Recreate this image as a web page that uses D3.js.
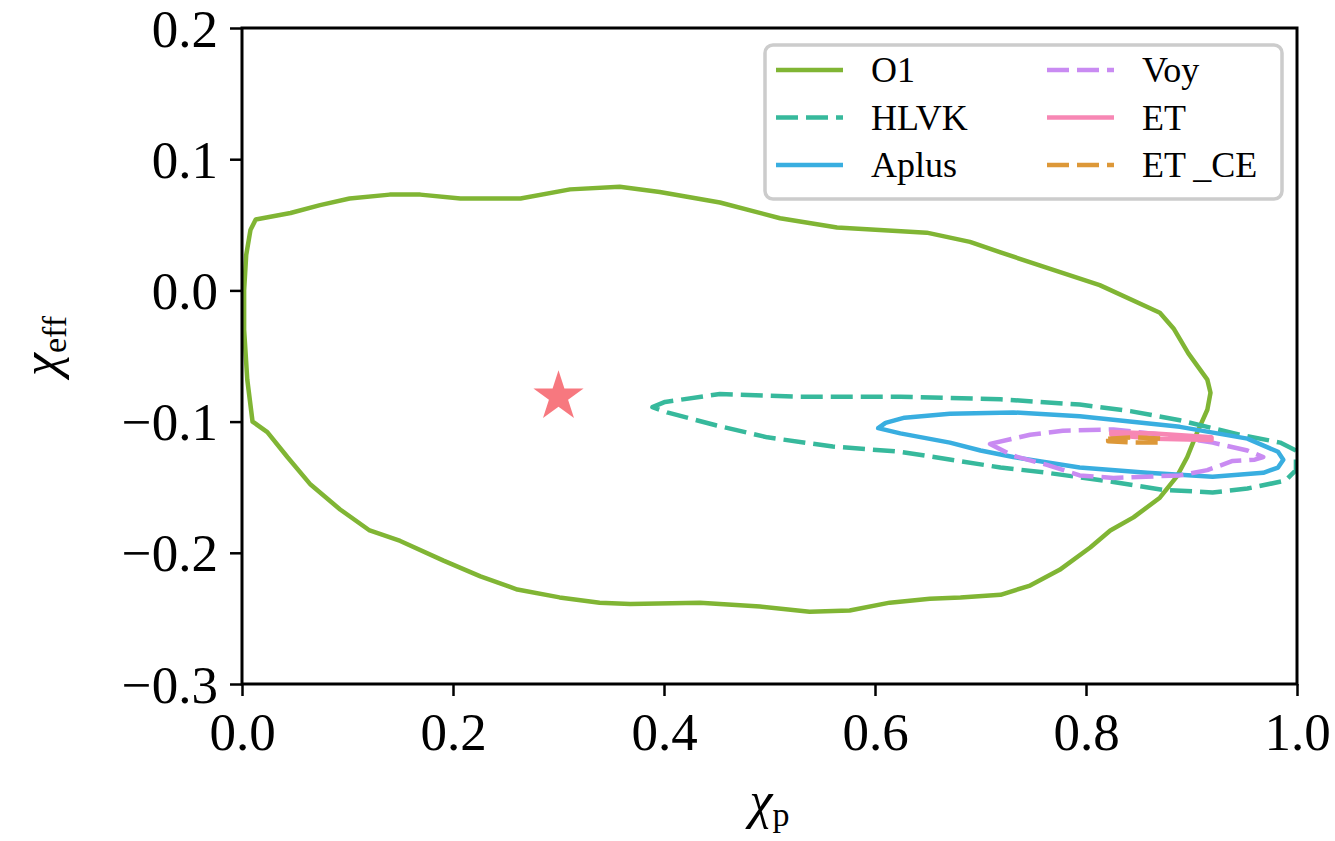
<!DOCTYPE html>
<html>
<head>
<meta charset="utf-8">
<script src="https://cdn.jsdelivr.net/npm/d3@7"></script>
<style>
  body { margin: 0; background: #fff; }
  text { font-family: "Liberation Serif", "DejaVu Serif", serif; fill: #000; }
</style>
</head>
<body>
<div id="chart"></div>
<script>
// contour outlines, [chi_p, chi_eff]
const o1 = [
  [0.013, 0.054], [0.046, 0.059], [0.074, 0.065], [0.102, 0.070], [0.140, 0.073],
  [0.169, 0.073], [0.207, 0.070], [0.264, 0.070], [0.311, 0.077], [0.358, 0.079],
  [0.396, 0.075], [0.453, 0.067], [0.510, 0.055], [0.564, 0.048], [0.649, 0.044],
  [0.690, 0.037], [0.719, 0.029], [0.756, 0.019], [0.813, 0.004], [0.870, -0.017],
  [0.883, -0.029], [0.897, -0.048], [0.915, -0.068], [0.918, -0.078], [0.915, -0.091],
  [0.905, -0.109], [0.896, -0.127], [0.886, -0.142], [0.870, -0.158], [0.845, -0.173],
  [0.823, -0.183], [0.804, -0.196], [0.775, -0.213], [0.747, -0.225], [0.719, -0.232],
  [0.681, -0.234], [0.652, -0.235], [0.614, -0.238], [0.576, -0.244], [0.538, -0.245],
  [0.491, -0.241], [0.434, -0.238], [0.368, -0.239], [0.339, -0.238], [0.301, -0.234],
  [0.261, -0.228], [0.226, -0.218], [0.191, -0.206], [0.150, -0.191], [0.121, -0.183],
  [0.093, -0.167], [0.065, -0.148], [0.043, -0.127], [0.024, -0.108], [0.010, -0.100],
  [0.005, -0.068], [0.002, -0.030], [0.002, 0.000], [0.004, 0.027], [0.008, 0.046]
];
const hlvk = [
  [0.389, -0.089], [0.401, -0.085], [0.453, -0.079], [0.529, -0.081], [0.624, -0.081],
  [0.719, -0.083], [0.794, -0.087], [0.842, -0.092], [0.889, -0.099], [0.946, -0.110],
  [0.984, -0.116], [0.999, -0.122], [0.999, -0.137], [0.989, -0.145], [0.953, -0.151],
  [0.920, -0.154], [0.873, -0.152], [0.826, -0.146], [0.763, -0.139], [0.719, -0.135],
  [0.624, -0.123], [0.560, -0.119], [0.498, -0.112], [0.450, -0.103], [0.403, -0.093]
];
const aplus = [
  [0.603, -0.105], [0.610, -0.101], [0.628, -0.097], [0.671, -0.094], [0.731, -0.093],
  [0.794, -0.096], [0.889, -0.104], [0.953, -0.113], [0.982, -0.123], [0.987, -0.129],
  [0.982, -0.135], [0.968, -0.139], [0.920, -0.142], [0.858, -0.139], [0.794, -0.135],
  [0.731, -0.127], [0.700, -0.122], [0.671, -0.116], [0.624, -0.109]
];
const voy = [
  [0.709, -0.117], [0.747, -0.110], [0.778, -0.107], [0.826, -0.106], [0.873, -0.110],
  [0.920, -0.116], [0.953, -0.122], [0.968, -0.127], [0.960, -0.129], [0.939, -0.130],
  [0.915, -0.137], [0.889, -0.141], [0.826, -0.143], [0.794, -0.141], [0.763, -0.133],
  [0.731, -0.126]
];
const et = [
  [0.824, -0.108], [0.865, -0.109], [0.919, -0.112], [0.919, -0.114], [0.865, -0.113],
  [0.824, -0.110]
];
const etce = [
  [0.821, -0.113], [0.845, -0.112], [0.871, -0.113], [0.871, -0.116], [0.845, -0.116],
  [0.821, -0.115]
];
const injected = [0.30, -0.081];

const seriesNames = ["O1", "HLVK", "Aplus", "Voy", "ET", "ET_CE"];
const seriesData = [o1, hlvk, aplus, voy, et, etce];
const seriesColors = ["#80b534", "#37b99c", "#39aee0", "#c98bf2", "#f787b4", "#dd9838"];
const seriesDashed = [false, true, false, true, false, true];

const xTicks = [0.0, 0.2, 0.4, 0.6, 0.8, 1.0];
const yTicks = [0.2, 0.1, 0.0, -0.1, -0.2, -0.3];

const width = 1335, height = 841;
const margin = {left: 242, top: 28, right: 38, bottom: 157};
const pw = width - margin.left - margin.right;
const ph = height - margin.top - margin.bottom;

const svg = d3.select("#chart").append("svg")
    .attr("width", width)
    .attr("height", height);

const g = svg.append("g")
    .attr("transform", `translate(${margin.left}, ${margin.top})`);

const x = d3.scaleLinear().domain([0, 1]).range([0, pw]);
const y = d3.scaleLinear().domain([-0.3, 0.2]).range([ph, 0]);

const fmt = d => (d < 0 ? "\u2212" : "") + Math.abs(d).toFixed(1);

// contours
const line = d3.line()
    .x(d => x(d[0]))
    .y(d => y(d[1]))
    .curve(d3.curveLinearClosed);

g.append("clipPath").attr("id", "clip")
    .append("rect").attr("width", pw).attr("height", ph);

const plot = g.append("g").attr("clip-path", "url(#clip)");

seriesData.forEach((pts, i) => {
  plot.append("path")
      .datum(pts)
      .attr("d", line)
      .attr("fill", "none")
      .attr("stroke", seriesColors[i])
      .attr("stroke-width", 4.5)
      .attr("stroke-linejoin", "round")
      .attr("stroke-dasharray", seriesDashed[i] ? "22,8" : null);
});

// injection star
plot.append("path")
    .attr("d", d3.symbol().type(d3.symbolStar).size(780))
    .attr("transform", `translate(${x(injected[0])}, ${y(injected[1])})`)
    .attr("fill", "#f77178")
    .attr("fill-opacity", 0.95);

// axes
const xAxis = g.append("g")
    .attr("transform", `translate(0, ${ph})`)
    .call(d3.axisBottom(x).tickValues(xTicks).tickFormat(d => d.toFixed(1)).tickSize(12).tickPadding(16));
const yAxis = g.append("g")
    .call(d3.axisLeft(y).tickValues(yTicks).tickFormat(fmt).tickSize(12).tickPadding(12));

[xAxis, yAxis].forEach(a => {
  a.select(".domain").remove();
  a.selectAll(".tick line").attr("stroke", "#000").attr("stroke-width", 2.5);
  a.selectAll(".tick text")
      .style("font-family", "Liberation Serif, serif")
      .style("font-size", "53px");
});
yAxis.selectAll(".tick text").attr("dy", "0.34em");

// frame
g.append("rect")
    .attr("width", pw)
    .attr("height", ph)
    .attr("fill", "none")
    .attr("stroke", "#000")
    .attr("stroke-width", 3);

// axis labels
const xl = svg.append("text")
    .attr("x", margin.left + pw / 2)
    .attr("y", 818)
    .attr("text-anchor", "middle")
    .style("font-size", "52px");
xl.append("tspan").style("font-style", "italic").text("\u03c7");
xl.append("tspan").attr("dy", 8).style("font-size", "34px").text("p");

const yl = svg.append("text")
    .attr("transform", `translate(58, ${margin.top + ph / 2 - 10}) rotate(-90)`)
    .attr("text-anchor", "middle")
    .style("font-size", "52px");
yl.append("tspan").style("font-style", "italic").text("\u03c7");
yl.append("tspan").attr("dy", 8).style("font-size", "34px").text("eff");

// legend
const leg = svg.append("g").attr("transform", "translate(765, 45)");
leg.append("rect")
    .attr("width", 517)
    .attr("height", 154)
    .attr("rx", 8)
    .attr("fill", "#fff")
    .attr("fill-opacity", 0.85)
    .attr("stroke", "#cccccc")
    .attr("stroke-width", 3.5);

seriesNames.forEach((name, i) => {
  const col = Math.floor(i / 3), row = i % 3;
  const lx = 11 + col * 271, ly = 25 + row * 47.5;
  leg.append("line")
      .attr("x1", lx).attr("x2", lx + 67)
      .attr("y1", ly).attr("y2", ly)
      .attr("stroke", seriesColors[i])
      .attr("stroke-width", 4.5)
      .attr("stroke-dasharray", seriesDashed[i] ? "22,8" : null);
  leg.append("text")
      .attr("x", lx + 95)
      .attr("y", ly + 12)
      .style("font-size", "36px")
      .text(name.replace("_", "\u2009_"));
});
</script>
</body>
</html>
